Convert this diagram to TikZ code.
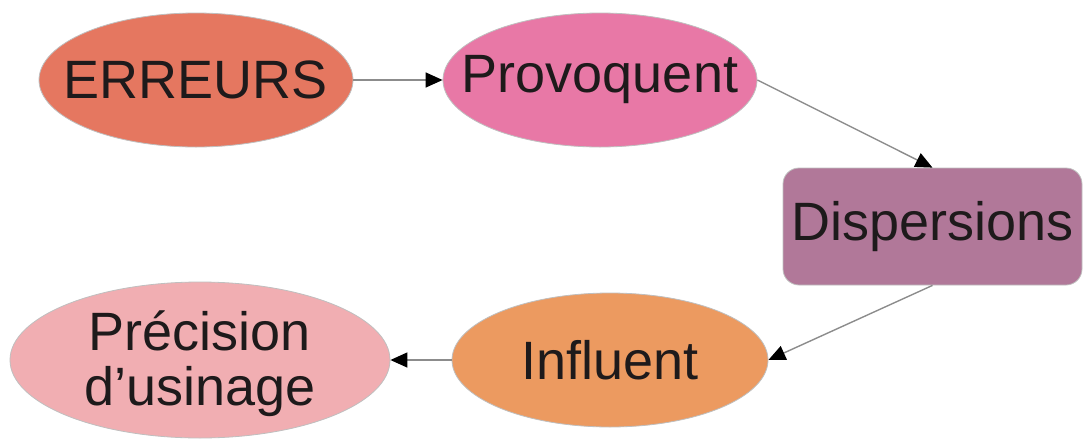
\documentclass[tikz,border=0pt]{standalone}
\usepackage{fontspec}
\setmainfont{Liberation Sans}
\usepackage{tikz}
\usetikzlibrary{shapes.geometric, arrows.meta, positioning}

\definecolor{errfill}{RGB}{229,119,96}
\definecolor{provfill}{RGB}{232,120,166}
\definecolor{dispfill}{RGB}{177,120,153}
\definecolor{inflfill}{RGB}{236,154,96}
\definecolor{precfill}{RGB}{241,174,178}
\definecolor{txtcol}{RGB}{30,26,27}

\begin{document}
\begin{tikzpicture}[
        x=0.5pt, y=-0.5pt,
        every node/.style={text=txtcol, font=\fontsize{27}{27.5}\selectfont, inner sep=0pt, align=center},
        oval/.style={draw=black!25, line width=0.4pt, ellipse},
        errblock/.style={oval, fill=errfill, minimum width=157pt, minimum height=67pt},
        provblock/.style={oval, fill=provfill, minimum width=157pt, minimum height=67pt},
        inflblock/.style={oval, fill=inflfill, minimum width=158pt, minimum height=67pt},
        precblock/.style={oval, fill=precfill, minimum width=190pt, minimum height=78pt},
        dispblock/.style={draw=black!25, line width=0.4pt, rectangle, rounded corners=8pt, fill=dispfill, minimum width=149.5pt, minimum height=58.5pt},
        link/.style={draw=black!45, line width=0.7pt, -{Triangle[length=8.5pt, width=7.5pt, color=black, fill=black]}}
    ]
        \useasboundingbox (0,0) rectangle (1083,440);

        % The chain of nodes (texts as centred labels so the ovals keep their size)
        \node[errblock, label=center:ERREURS] (err) at (196,80) {};
        \node[provblock, label=center:Provoquent] (prov) at (600,80) {};
        \node[dispblock] (disp) at (932.5,226.5) {Dispersions};
        \node[inflblock, label=center:Influent] (infl) at (610,360) {};
        \node[precblock, label={[yshift=-2pt]center:Précision\\d’usinage}] (prec) at (200,360) {};

        % Connectors
        \draw[link] (err.east) -- (prov.west);
        \draw[link] (prov.east) -- (disp.north);
        \draw[link] (disp.south) -- (infl.east);
        \draw[link] (infl.west) -- (prec.east);

    \end{tikzpicture}
\end{document}
